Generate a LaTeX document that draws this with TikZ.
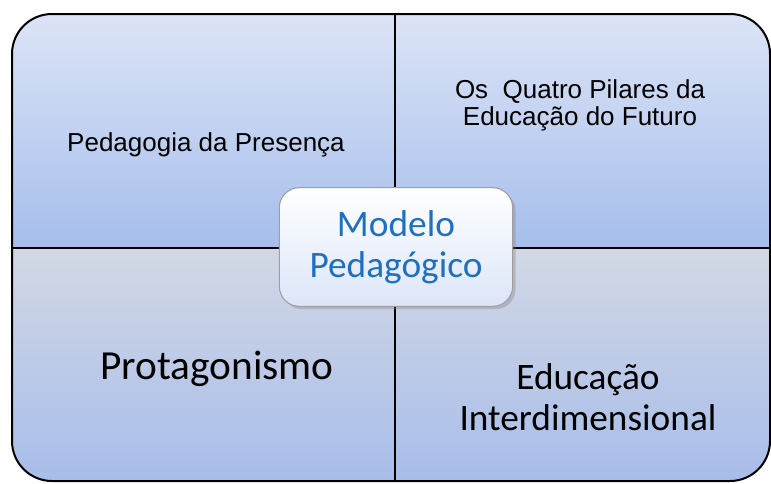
\documentclass[tikz,border=0pt]{standalone}
\usepackage{fontspec}
\newfontfamily\arialfont{Liberation Sans}
\newfontfamily\calibrifont{Carlito}
\usetikzlibrary{shadows}

\definecolor{upperTop}{HTML}{DCE4F6}
\definecolor{upperBottom}{HTML}{A6BEEC}
\definecolor{lowerTop}{HTML}{D2D8E5}
\definecolor{lowerBottom}{HTML}{A8BDEA}
\definecolor{boxBottom}{HTML}{DCE5F8}
\definecolor{modelBlue}{HTML}{1F6FC1}

\tikzset{
  upper/.style={top color=upperTop, bottom color=upperBottom},
  lower/.style={top color=lowerTop, bottom color=lowerBottom},
  smalllabel/.style={font=\arialfont\fontsize{19.5}{20.5}\selectfont, align=center, text=black},
  biglabel/.style={font=\calibrifont\fontsize{28}{31}\selectfont, align=center, text=black},
  centerbox/.style={draw=gray!75, line width=0.8pt, rounded corners=15pt,
    top color=white, bottom color=boxBottom, drop shadow={opacity=0.35},
    minimum width=175pt, minimum height=89pt, align=center,
    font=\calibrifont\fontsize{28}{31}\selectfont, text=modelBlue}
}

\begin{document}
\begin{tikzpicture}[x=0.75pt,y=-0.75pt]
	\useasboundingbox (0,0) rectangle (771,483);

	% Quadrants
	\begin{scope}
		\clip[rounded corners=30pt] (12,14) rectangle (770,481);
		\fill[upper] (12,14) rectangle (395,248);
		\fill[upper] (395,14) rectangle (770,248);
		\fill[lower] (12,248) rectangle (395,481);
		\fill[lower] (395,248) rectangle (770,481);
	\end{scope}

	% Borders
	\draw[line width=1.5pt, rounded corners=30pt] (12,14) rectangle (770,481);
	\draw[line width=1.8pt] (395,14) -- (395,481);
	\draw[line width=1.5pt] (12,248) -- (770,248);

	% Labels
	\node[smalllabel] (presenca) at (206,145) {Pedagogia da Presença};
	\node[smalllabel] (pilares) at (580,105) {Os\ \ Quatro Pilares da\\Educação do Futuro};
	\node[biglabel, font=\calibrifont\fontsize{31}{33}\selectfont] (protagonismo) at (217,369) {Protagonismo};
	\node[biglabel] (interdimensional) at (588,397) {Educação\\Interdimensional};

	% Center
	\node[centerbox] (modelo) at (396,247) {Modelo\\Pedagógico};

\end{tikzpicture}
\end{document}
